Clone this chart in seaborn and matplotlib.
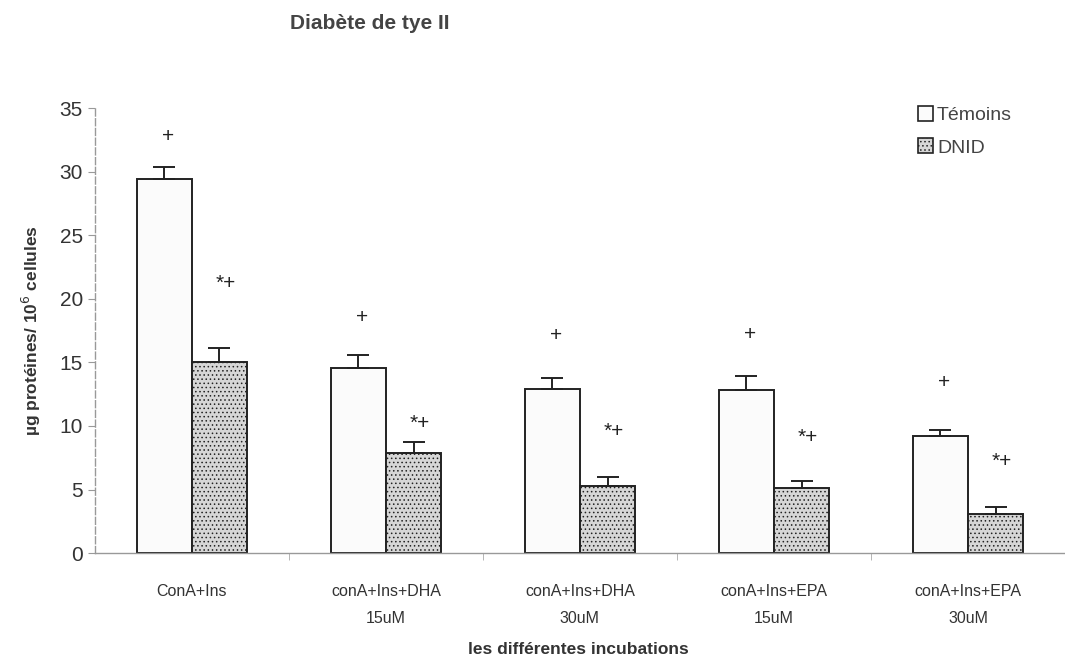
import pandas as pd
import seaborn as sns
import matplotlib.pyplot as plt
from matplotlib.ticker import FixedLocator
from matplotlib.patches import Patch

# data
incubations = ['ConA+Ins', 'conA+Ins+DHA\n15uM', 'conA+Ins+DHA\n30uM',
               'conA+Ins+EPA\n15uM', 'conA+Ins+EPA\n30uM']
groups = ['Témoins', 'DNID']
temoins = [29.4, 14.6, 12.9, 12.8, 9.2]
dnid = [15.0, 7.9, 5.3, 5.1, 3.1]
err_temoins = [1.0, 1.0, 0.9, 1.1, 0.45]
err_dnid = [1.1, 0.85, 0.65, 0.6, 0.5]
sig_temoins = ['+', '+', '+', '+', '+']
sig_dnid = ['*+', '*+', '*+', '*+', '*+']
sig_y_temoins = [32.8, 18.5, 17.1, 17.2, 13.4]
sig_y_dnid = [21.2, 10.2, 9.6, 9.1, 7.2]

df = pd.DataFrame({
    'incubation': incubations * 2,
    'groupe': [groups[0]] * 5 + [groups[1]] * 5,
    'valeur': temoins + dnid,
})

sns.set_style('white')
plt.rcParams['font.family'] = ['Liberation Sans', 'DejaVu Sans']
plt.rcParams['hatch.color'] = '#a5a5a5'
plt.rcParams['hatch.linewidth'] = 0.6

fig = plt.figure(figsize=(10.65, 6.6), dpi=100)
ax = fig.add_axes([0.089, 0.162, 0.911, 0.674])

sns.barplot(data=df, x='incubation', y='valeur', hue='groupe',
            palette={'Témoins': '#fbfbfb', 'DNID': '#d6d6d6'},
            width=0.57, edgecolor='#222222', linewidth=1.4,
            errorbar=None, legend=False, ax=ax)

bars_t = ax.patches[:5]
bars_d = ax.patches[5:10]
for bar in bars_d:
    bar.set_hatch('....')
xs_t = [b.get_x() + b.get_width() / 2 for b in bars_t]
xs_d = [b.get_x() + b.get_width() / 2 for b in bars_d]

ax.errorbar(xs_t, temoins, yerr=[[0] * 5, err_temoins], fmt='none',
            ecolor='#222222', elinewidth=1.4, capsize=8, capthick=1.4)
ax.errorbar(xs_d, dnid, yerr=[[0] * 5, err_dnid], fmt='none',
            ecolor='#222222', elinewidth=1.4, capsize=8, capthick=1.4)

for x, y, s in zip(xs_t, sig_y_temoins, sig_temoins):
    ax.text(x + 0.02, y, s, ha='center', va='center', fontsize=15, color='#222222')
for x, y, s in zip(xs_d, sig_y_dnid, sig_dnid):
    ax.text(x + 0.03, y, s, ha='center', va='center', fontsize=15, color='#222222')

ax.set_ylim(0, 35)
ax.set_xlim(-0.5, 4.5)
ax.set_yticks(range(0, 36, 5))
ax.tick_params(axis='y', labelsize=15, labelcolor='#333333', length=5,
               color='#999999', direction='out', left=True)
ax.tick_params(axis='x', which='major', length=0, labelsize=11.5,
               labelcolor='#333333', pad=22)
ax.xaxis.set_minor_locator(FixedLocator([0.5, 1.5, 2.5, 3.5]))
ax.tick_params(axis='x', which='minor', length=5, color='#aaaaaa',
               direction='out', bottom=True)
for lab in ax.get_xticklabels():
    lab.set_linespacing(2.0)

sns.despine(ax=ax)
ax.spines['left'].set_color('#999999')
ax.spines['left'].set_linestyle((0, (5, 2)))
ax.spines['left'].set_linewidth(1.0)
ax.spines['bottom'].set_color('#999999')
ax.spines['bottom'].set_linewidth(1.0)

ax.set_xlabel('les différentes incubations', fontsize=12.5, fontweight='bold',
              color='#333333', va='center')
ax.xaxis.set_label_coords(0.498, -0.216)
ax.set_ylabel('µg protéines/ 10$^6$ cellules', fontsize=12.5,
              fontweight='bold', color='#333333', labelpad=12)

handles = [Patch(facecolor='#fbfbfb', edgecolor='#222222', linewidth=1.2),
           Patch(facecolor='#d6d6d6', edgecolor='#222222', linewidth=1.2, hatch='....')]
ax.legend(handles, groups, loc='upper left', bbox_to_anchor=(0.83, 1.045),
          frameon=False, fontsize=14, handlelength=0.8, handleheight=0.8,
          handletextpad=0.2, labelspacing=0.75, labelcolor='#444444')

fig.text(0.272, 0.965, 'Diabète de tye II', fontsize=15, fontweight='bold',
         color='#444444', ha='left', va='center')

fig.savefig('out.png', dpi=100)
